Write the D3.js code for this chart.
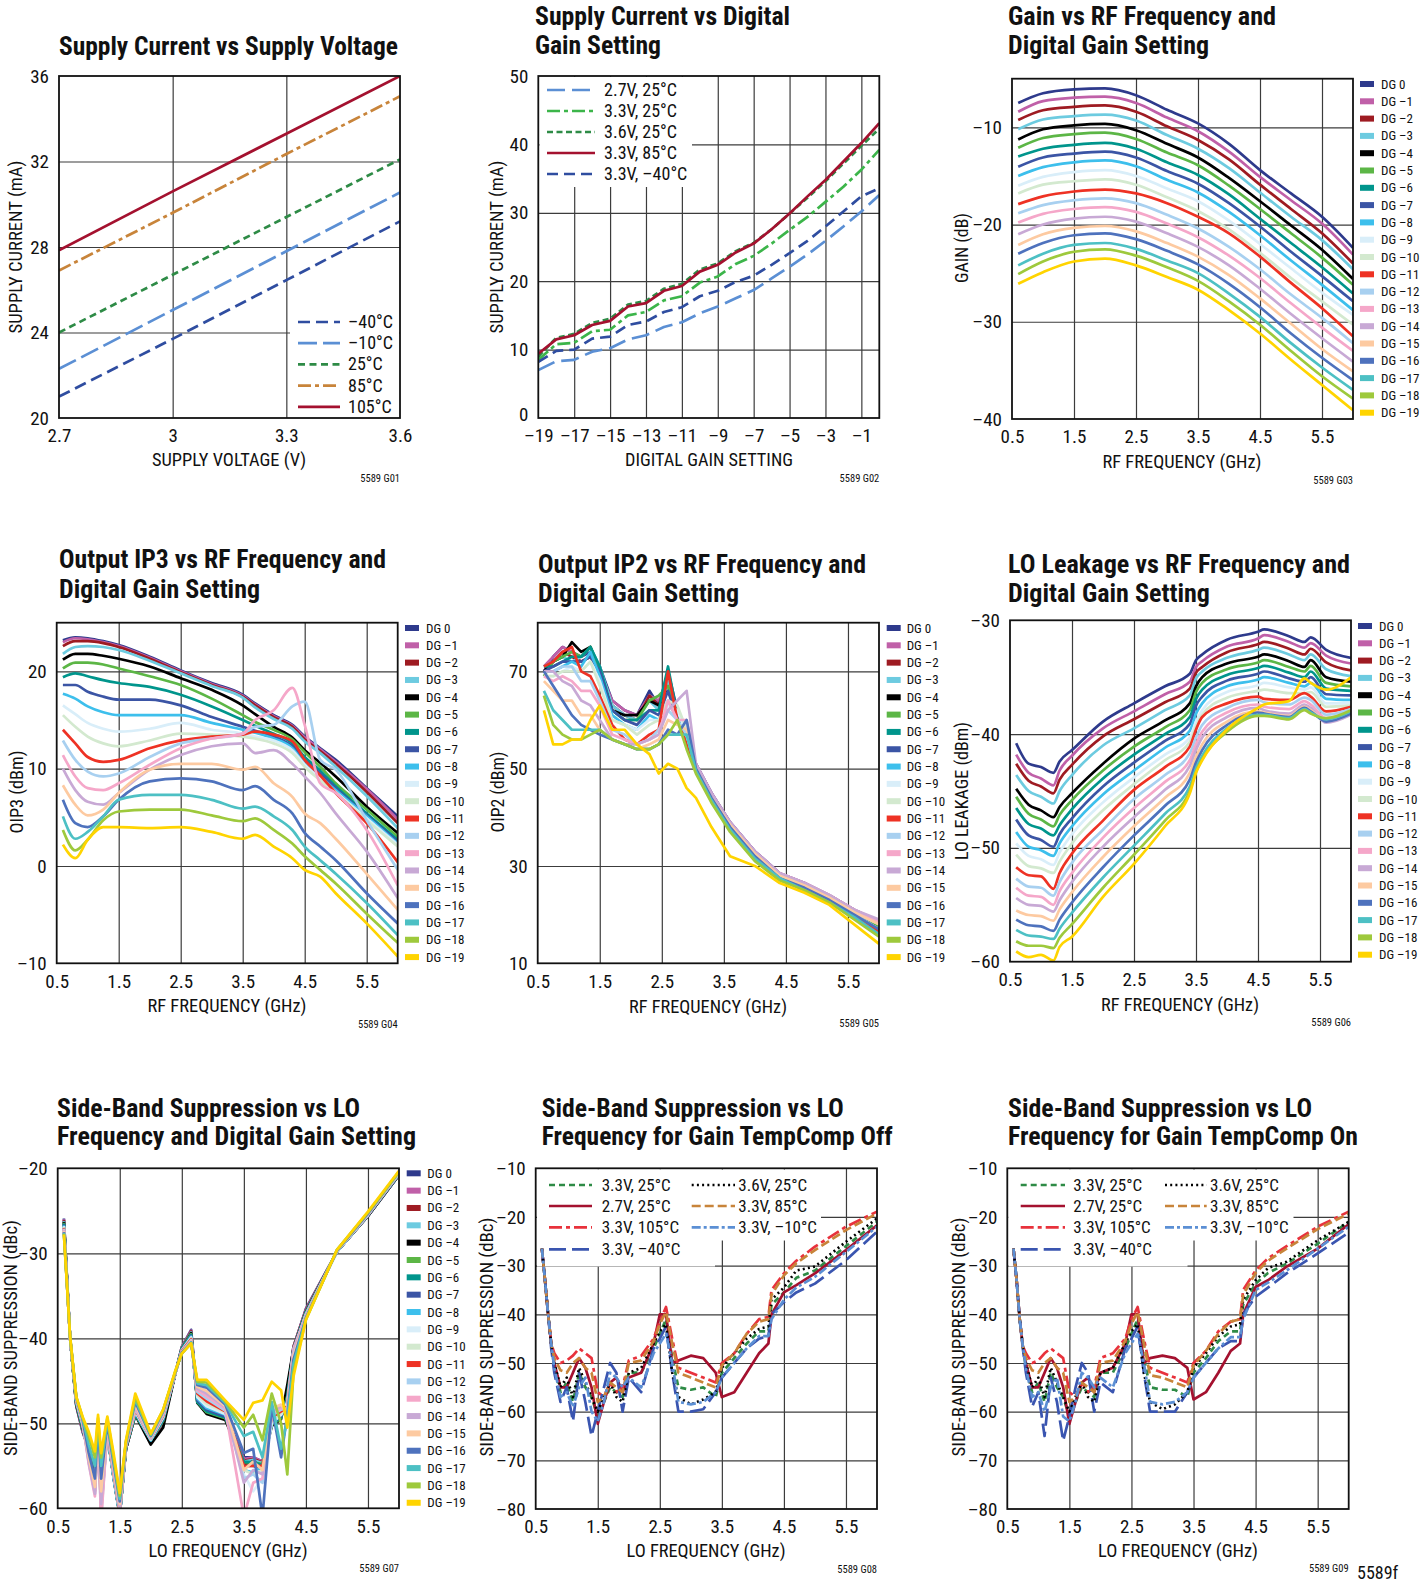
<!DOCTYPE html>
<html>
<head>
<meta charset="utf-8">
<script src="https://cdn.jsdelivr.net/npm/d3@7"></script>
<style>
body { margin: 0; background: #fff; }
svg { display: block; }
</style>
</head>
<body>
<div id="chart"></div>
<script>
// ---------- data ----------

// G01 supply current vs supply voltage
var voltSteps = [2.7, 3.0, 3.3, 3.6];
var curM40 = [21.0, 23.7, 26.45, 29.2];
var curM10 = [22.3, 25.05, 27.8, 30.55];
var cur25 = [24.0, 26.7, 29.4, 32.1];
var cur85 = [26.9, 29.6, 32.35, 35.05];
var cur105 = [27.85, 30.6, 33.3, 36.0];

// G02 supply current vs digital gain setting
var gainSteps = [-19, -18, -17, -16, -15, -14, -13, -12, -11, -10, -9, -8, -7, -6, -5, -4, -3, -2, -1, 0];
var sup27v25 = [7.0, 8.3, 8.5, 9.7, 10.2, 11.5, 12.1, 13.3, 14.0, 15.3, 16.3, 17.5, 18.7, 20.4, 22.1, 23.9, 25.9, 28.0, 30.2, 32.6];
var sup33v25 = [8.5, 10.8, 11.0, 12.7, 12.9, 15.0, 15.5, 17.2, 17.8, 19.8, 20.7, 22.5, 23.7, 25.5, 27.5, 29.4, 31.6, 33.8, 36.3, 39.2];
var sup36v25 = [9.0, 11.7, 12.3, 13.9, 14.5, 16.6, 17.1, 18.9, 19.6, 21.7, 22.6, 24.4, 25.6, 27.6, 29.9, 32.2, 34.6, 37.2, 39.8, 42.3];
var sup33v85 = [9.4, 11.5, 12.1, 13.6, 14.2, 16.3, 16.8, 18.6, 19.3, 21.4, 22.4, 24.2, 25.5, 27.6, 29.9, 32.4, 34.8, 37.5, 40.2, 43.1];
var sup33vM40 = [8.2, 9.8, 10.0, 11.6, 11.9, 13.6, 14.1, 15.5, 16.2, 17.8, 18.6, 19.9, 20.8, 22.4, 24.1, 25.9, 28.0, 30.2, 32.4, 33.6];

// digital gain families
var dgLabels = ["DG 0", "DG \u20131", "DG \u20132", "DG \u20133", "DG \u20134", "DG \u20135", "DG \u20136", "DG \u20137", "DG \u20138", "DG \u20139",
  "DG \u201310", "DG \u201311", "DG \u201312", "DG \u201313", "DG \u201314", "DG \u201315", "DG \u201316", "DG \u201317", "DG \u201318", "DG \u201319"];
var dgColors = ["#2e3a8c", "#c060a8", "#9e1b22", "#6dcbe0", "#000000", "#5cb646", "#00958c", "#3b55a5", "#3dbfec", "#d9eef9",
  "#d3e9cf", "#ee3224", "#a8d0f0", "#f5a7c9", "#c8a9d5", "#fdcaa1", "#4e72bd", "#4dc0c4", "#9ec93c", "#ffd400"];

// G03 gain (dB), one row per DG setting
var gainFreq = [0.6, 1.0, 1.5, 2.0, 2.5, 3.0, 3.5, 4.0, 4.5, 5.0, 5.5, 6.0];
var gainRows = [
  [-7.5, -6.5, -6.1, -6.0, -6.7, -8.2, -9.6, -11.7, -14.4, -16.8, -19.2, -22.4],
  [-8.4, -7.3, -6.95, -6.85, -7.5, -9.0, -10.4, -12.5, -15.1, -17.5, -19.9, -23.1],
  [-9.25, -8.25, -7.9, -7.75, -8.4, -9.9, -11.3, -13.3, -15.9, -18.4, -20.9, -24.0],
  [-10.2, -9.2, -8.85, -8.7, -9.3, -10.8, -12.2, -14.2, -16.7, -19.2, -21.6, -24.6],
  [-11.25, -10.2, -9.8, -9.65, -10.3, -11.7, -13.1, -15.2, -17.6, -20.1, -22.6, -25.6],
  [-12.1, -11.1, -10.7, -10.55, -11.2, -12.6, -13.9, -16.0, -18.4, -20.9, -23.4, -26.2],
  [-13.0, -12.2, -11.8, -11.6, -12.2, -13.6, -14.9, -16.9, -19.4, -21.9, -24.4, -27.1],
  [-14.05, -13.1, -12.7, -12.5, -13.1, -14.5, -15.8, -17.8, -20.2, -22.8, -25.3, -27.9],
  [-15.0, -14.1, -13.6, -13.4, -14.0, -15.4, -16.7, -18.7, -21.1, -23.7, -26.2, -28.8],
  [-16.0, -15.1, -14.6, -14.4, -15.0, -16.3, -17.6, -19.6, -22.0, -24.5, -27.0, -29.3],
  [-16.8, -15.9, -15.55, -15.35, -15.9, -17.2, -18.6, -20.5, -22.9, -25.5, -27.9, -30.3],
  [-17.9, -17.1, -16.6, -16.4, -16.8, -17.8, -19.2, -20.9, -23.3, -26.0, -28.6, -31.5],
  [-18.85, -18.0, -17.5, -17.3, -17.8, -19.0, -20.4, -22.3, -24.6, -27.2, -29.6, -32.2],
  [-19.8, -18.9, -18.4, -18.2, -18.7, -19.9, -21.3, -23.2, -25.5, -28.1, -30.6, -33.0],
  [-21.0, -20.0, -19.4, -19.2, -19.7, -20.9, -22.3, -24.2, -26.6, -29.2, -31.7, -34.1],
  [-22.1, -21.0, -20.35, -20.15, -20.7, -21.9, -23.3, -25.2, -27.6, -30.2, -32.8, -35.1],
  [-23.0, -21.9, -21.1, -20.9, -21.5, -22.7, -24.1, -26.1, -28.5, -31.2, -33.7, -36.0],
  [-24.2, -23.0, -22.1, -21.9, -22.5, -23.7, -25.0, -27.1, -29.5, -32.2, -34.7, -37.0],
  [-25.1, -23.8, -22.8, -22.55, -23.2, -24.4, -25.8, -27.9, -30.3, -33.0, -35.6, -37.9],
  [-26.1, -24.9, -23.8, -23.5, -24.2, -25.4, -26.7, -28.8, -31.2, -33.9, -36.5, -39.1]
];

// G04 OIP3 (dBm)
var oip3Freq = [0.6, 0.8, 1.0, 1.25, 1.5, 2.0, 2.5, 3.0, 3.5, 3.7, 4.0, 4.3, 4.5, 4.75, 5.0, 5.5, 6.0];
var oip3Rows = [
  [23.2, 23.5, 23.4, 23.1, 22.7, 21.5, 20.1, 18.8, 17.6, 16.7, 15.5, 14.5, 13.3, 12.1, 10.9, 8.0, 5.1],
  [23.0, 23.4, 23.3, 23.0, 22.6, 21.4, 20.0, 18.7, 17.5, 16.6, 15.4, 14.4, 13.2, 12.0, 10.7, 7.9, 4.8],
  [22.6, 23.1, 23.1, 22.9, 22.5, 21.3, 19.9, 18.6, 17.4, 16.5, 15.3, 14.3, 13.0, 11.8, 10.5, 7.6, 4.4],
  [21.8, 22.5, 22.6, 22.5, 22.2, 21.1, 19.8, 18.5, 17.3, 16.3, 15.1, 14.1, 12.8, 11.6, 10.2, 7.2, 3.9],
  [21.2, 21.8, 21.8, 21.6, 21.3, 20.5, 19.3, 18.1, 16.5, 15.6, 14.3, 13.2, 11.9, 10.6, 9.2, 6.1, 3.4],
  [20.3, 20.9, 20.9, 20.7, 20.3, 19.5, 18.6, 17.2, 15.5, 14.8, 14.0, 13.0, 11.7, 10.2, 8.5, 5.8, 3.0],
  [19.4, 19.8, 19.5, 19.1, 18.8, 18.4, 17.6, 16.4, 15.0, 14.4, 13.6, 12.6, 11.2, 9.8, 8.2, 5.4, 2.7],
  [18.6, 18.6, 17.9, 17.4, 17.1, 17.1, 16.5, 15.3, 14.3, 13.9, 13.3, 12.3, 10.9, 9.5, 8.0, 5.2, 2.5],
  [17.7, 17.2, 16.4, 15.8, 15.5, 15.5, 15.5, 14.7, 14.0, 13.7, 13.1, 12.1, 10.5, 9.2, 7.8, 5.1, 2.3],
  [16.5, 15.6, 14.7, 14.1, 13.8, 14.1, 14.7, 14.0, 13.6, 13.3, 12.9, 11.9, 10.4, 9.0, 7.6, 4.9, 2.2],
  [15.5, 14.3, 13.3, 12.6, 12.3, 12.9, 13.6, 13.5, 13.3, 13.1, 12.6, 11.6, 10.2, 8.8, 7.5, 4.7, 2.0],
  [14.0, 12.6, 11.2, 10.7, 10.9, 12.1, 12.9, 13.3, 13.5, 13.8, 13.5, 12.8, 10.9, 9.3, 7.5, 4.4, 0.4],
  [12.9, 10.9, 9.7, 9.2, 9.5, 11.2, 12.6, 13.1, 13.6, 14.3, 14.5, 16.4, 16.9, 10.9, 9.9, 4.7, -0.4],
  [11.4, 9.2, 8.0, 7.8, 8.5, 10.4, 12.1, 13.1, 13.6, 15.0, 16.0, 18.3, 14.5, 8.5, 7.5, 3.7, -2.0],
  [10.0, 7.8, 6.6, 6.3, 7.5, 9.9, 11.4, 12.3, 12.6, 11.6, 11.9, 10.5, 9.2, 7.5, 5.4, 1.5, -3.3],
  [8.3, 6.3, 5.2, 5.8, 7.5, 9.9, 10.5, 10.5, 9.9, 10.2, 8.5, 7.1, 5.4, 4.4, 2.8, -0.8, -4.5],
  [6.8, 4.4, 4.0, 5.1, 6.8, 8.7, 9.0, 8.7, 7.8, 8.2, 6.8, 5.4, 3.4, 2.0, 0.6, -2.8, -5.9],
  [5.1, 2.8, 3.5, 5.1, 6.8, 7.3, 7.3, 6.8, 5.9, 6.1, 5.1, 3.7, 2.0, 0.6, -0.8, -3.8, -7.1],
  [3.7, 1.6, 2.7, 4.7, 5.6, 5.8, 5.8, 5.2, 4.6, 4.9, 3.7, 2.3, 1.0, -0.4, -1.8, -4.9, -7.9],
  [2.2, 0.8, 2.7, 4.0, 4.0, 3.9, 4.0, 3.5, 2.8, 3.2, 2.0, 0.8, -0.4, -1.1, -2.8, -5.9, -9.3]
];

// G05 OIP2 (dBm)
var oip2Freq = [0.6, 0.75, 0.9, 1.05, 1.2, 1.35, 1.5, 1.7, 1.9, 2.1, 2.3, 2.45, 2.6, 2.75, 2.9, 3.05, 3.3, 3.6, 4.0, 4.4, 4.8, 5.2, 5.6, 6.0];
var oip2Rows = [
  [70, 73, 75, 74, 73, 74, 71, 64, 62, 61, 66, 63, 70, 62, 57, 51, 45, 39, 33, 28.5, 26.5, 24, 21, 18.5],
  [71, 73, 75, 74, 72, 73, 70, 64, 62, 61, 65, 64, 68, 61, 57, 51, 45, 39, 33, 28.5, 26.5, 24, 21, 18.7],
  [70, 72, 74, 73, 72, 73, 70, 63, 61, 60, 65, 63, 69, 61, 56, 50, 44.5, 38.5, 32.5, 28, 26, 23.5, 20.5, 18],
  [71, 72, 73, 72, 73, 75, 71, 63, 61, 60, 64, 62, 68, 60, 56, 50, 44.5, 38.5, 32.5, 28, 26, 23.5, 20.5, 18],
  [70, 72, 73, 76, 74, 75, 70, 62, 61, 61, 64, 63, 66, 62, 56, 50, 44, 38, 32.5, 28, 26, 23.5, 20.5, 17.5],
  [69, 72, 73, 74, 73, 75, 70, 62, 60, 60, 64, 65, 67, 61, 56, 50, 44, 38, 32.5, 28, 26, 23.5, 20.5, 17.5],
  [71, 71, 72, 73, 73, 75, 71, 62, 60, 60, 62, 62, 71, 61, 56, 50, 44, 38, 32, 28, 25.5, 23, 20, 17],
  [70, 71, 72, 72, 72, 73, 70, 62, 60, 59, 62, 61, 66, 60, 56, 50, 44, 38, 32, 28, 25.5, 23, 20, 17],
  [70, 70, 71, 72, 71, 74, 69, 61, 59, 58, 61, 60, 64, 60, 56, 49.5, 44, 38, 32, 27.5, 25.5, 23, 20, 17],
  [69, 69, 70, 71, 70, 72, 68, 60, 59, 58, 60, 60, 63, 62, 57, 49.5, 43.5, 37.5, 32, 27.5, 25.5, 23, 20, 17],
  [69, 69, 70, 70, 70, 72, 67, 60, 59, 57, 59, 60, 64, 63, 58, 50, 43.5, 37.5, 32, 27.5, 25.5, 23, 20, 17],
  [71, 72, 74, 75, 70, 69, 65, 59, 56, 55, 57, 58, 70, 60, 55, 49.5, 43.5, 37.5, 31.5, 27.5, 25, 22.5, 19.5, 16.5],
  [70, 70, 71, 71, 68, 68, 64, 58, 57, 55, 56, 58, 62, 60, 57, 50, 44, 38, 32, 28, 26, 23.5, 20.5, 18],
  [69, 68, 69, 68, 66, 66, 63, 57, 56, 55, 56, 57, 64, 60, 60, 50.5, 44.5, 38.5, 32.5, 28.5, 26.5, 24, 21, 18.5],
  [70, 70, 68, 67, 64, 63, 60, 56, 55, 55, 56, 57, 62, 64, 66, 51, 45, 39, 33, 28.5, 26.5, 24, 21, 19],
  [68, 66, 64, 64, 61, 61, 58, 56, 55, 54, 55, 56, 60, 59, 58, 50, 44, 38.5, 32.5, 28, 26, 23.5, 20.5, 18],
  [70, 67, 64, 61, 59, 58, 57, 56, 55, 54, 54, 55, 58, 57, 60, 50, 44, 38, 32, 27.5, 25.5, 23, 20, 17],
  [66, 62, 60, 58, 58, 58, 58, 56, 55, 54, 54, 55, 57, 57, 57, 49.5, 43.5, 37.5, 31.5, 27.5, 25, 22.5, 19.5, 16],
  [65, 59, 57, 56, 56, 57, 58, 56, 55, 54, 54, 55, 57, 60, 54, 49, 43, 37, 31, 27, 25, 22.5, 19, 15.5],
  [62, 55, 55, 56, 56, 60, 63, 58, 58, 55, 53, 49, 51, 50, 46, 44, 38, 32, 30, 26.5, 24.5, 22, 18, 14]
];

// G06 LO leakage (dBm)
var leakFreq = [0.6, 0.8, 1.0, 1.2, 1.3, 1.5, 2.0, 2.5, 3.0, 3.4, 3.5, 3.6, 4.0, 4.5, 4.6, 5.0, 5.25, 5.35, 5.6, 6.0];
var leakRows = [
  [-40.8, -42.6, -42.9, -43.4, -42.4, -41.4, -38.9, -37.3, -35.8, -34.7, -33.5, -33.0, -31.7, -31.0, -30.8, -31.4, -31.9, -31.5, -32.6, -33.3],
  [-41.8, -43.4, -43.9, -44.5, -43.2, -41.9, -39.5, -38.0, -36.5, -35.4, -34.1, -33.6, -32.3, -31.6, -31.3, -31.9, -32.4, -32.0, -33.1, -33.8],
  [-42.6, -44.1, -44.6, -45.2, -44.0, -42.7, -40.2, -38.7, -37.2, -36.0, -34.6, -34.1, -32.8, -32.1, -31.9, -32.5, -33.0, -32.5, -33.7, -34.4],
  [-43.6, -45.0, -45.5, -46.1, -45.0, -43.6, -41.0, -39.5, -37.9, -36.6, -35.1, -34.5, -33.3, -32.6, -32.4, -33.0, -33.5, -33.0, -34.3, -34.9],
  [-44.8, -46.2, -46.7, -47.3, -46.4, -45.2, -42.6, -40.4, -38.8, -37.3, -35.8, -35.0, -33.8, -33.2, -33.0, -33.6, -34.1, -33.5, -35.0, -35.4],
  [-45.5, -47.0, -47.5, -48.1, -47.1, -45.8, -43.2, -41.1, -39.4, -37.9, -36.3, -35.5, -34.3, -33.7, -33.5, -34.1, -34.5, -34.0, -35.5, -35.8],
  [-46.5, -47.9, -48.3, -48.9, -48.0, -46.6, -43.9, -41.8, -40.0, -38.5, -36.9, -36.1, -34.8, -34.2, -34.0, -34.6, -35.0, -34.5, -36.0, -36.2],
  [-47.5, -48.9, -49.3, -49.9, -48.8, -47.4, -44.6, -42.5, -40.6, -39.1, -37.5, -36.7, -35.3, -34.7, -34.5, -35.1, -35.4, -35.0, -36.5, -36.6],
  [-48.6, -49.9, -50.2, -50.7, -49.6, -48.1, -45.3, -43.2, -41.2, -39.7, -38.2, -37.3, -35.8, -35.2, -35.0, -35.5, -35.8, -35.5, -36.9, -37.0],
  [-49.6, -50.7, -51.0, -51.5, -50.4, -48.8, -46.0, -43.8, -41.8, -40.3, -38.9, -37.9, -36.3, -35.7, -35.5, -35.9, -36.1, -35.9, -37.3, -37.3],
  [-50.6, -51.6, -51.8, -52.2, -51.2, -49.6, -46.7, -44.4, -42.3, -40.7, -39.3, -38.3, -36.8, -36.2, -36.1, -36.4, -36.4, -36.3, -37.6, -37.5],
  [-51.7, -52.4, -52.5, -53.6, -52.2, -50.5, -47.6, -44.9, -42.9, -41.1, -39.6, -38.5, -37.3, -36.7, -36.9, -37.0, -36.4, -36.7, -38.0, -37.6],
  [-52.7, -53.4, -53.5, -54.2, -53.0, -51.3, -48.4, -45.7, -43.6, -41.7, -40.3, -39.2, -37.7, -37.0, -37.2, -37.4, -36.8, -37.0, -38.3, -37.8],
  [-53.5, -54.2, -54.3, -55.0, -53.8, -52.2, -49.1, -46.5, -44.2, -42.3, -40.9, -39.8, -38.1, -37.4, -37.6, -37.8, -37.1, -37.4, -38.6, -38.0],
  [-54.4, -55.0, -55.1, -55.6, -54.6, -53.0, -49.9, -47.3, -44.9, -42.8, -41.4, -40.3, -38.5, -37.7, -37.9, -38.2, -37.4, -37.7, -39.0, -38.3],
  [-55.5, -55.9, -56.0, -56.4, -55.4, -53.9, -50.8, -48.1, -45.6, -43.4, -42.0, -40.9, -38.9, -38.0, -38.1, -38.4, -37.6, -37.9, -38.8, -38.1],
  [-56.3, -56.8, -56.9, -57.3, -56.3, -54.8, -51.7, -48.9, -46.3, -44.0, -42.5, -41.4, -39.2, -38.1, -38.2, -38.5, -37.7, -38.0, -38.9, -38.2],
  [-57.2, -57.7, -57.8, -58.0, -57.1, -55.7, -52.6, -49.8, -47.0, -44.6, -43.0, -41.9, -39.5, -38.3, -38.3, -38.6, -37.8, -38.1, -38.7, -38.0],
  [-58.2, -58.6, -58.6, -58.8, -57.9, -56.7, -53.5, -50.6, -47.6, -45.0, -43.3, -42.2, -39.8, -38.4, -38.4, -38.7, -37.9, -38.2, -38.6, -37.9],
  [-59.1, -59.6, -59.4, -59.9, -58.7, -57.8, -54.3, -51.4, -48.1, -45.2, -43.4, -42.3, -39.6, -37.7, -37.4, -37.1, -35.1, -35.5, -36.1, -35.0]
];

// G07 side-band suppression (dBc) per DG setting
var sbsFreq = [0.6, 0.7, 0.8, 0.9, 1.0, 1.1, 1.15, 1.2, 1.3, 1.4, 1.5, 1.6, 1.75, 2.0, 2.2, 2.4, 2.5, 2.65, 2.75, 2.9, 3.2, 3.5, 3.65, 3.8, 3.95, 4.1, 4.2, 4.3, 4.5, 5.0, 5.5, 6.0];
var sbsRows = [
  [-25.9, -40.0, -48.0, -51.0, -53.0, -56.0, -51.0, -57.0, -51.0, -56.0, -60.5, -53.0, -49.0, -52.0, -50.0, -44.0, -41.0, -39.0, -47.0, -48.5, -49.0, -54.0, -54.0, -54.5, -50.0, -49.0, -46.5, -41.0, -36.5, -29.8, -25.6, -20.8],
  [-26.0, -40.0, -47.9, -50.9, -53.0, -56.0, -51.0, -57.2, -51.0, -56.0, -60.5, -53.0, -49.0, -52.0, -50.0, -44.0, -41.0, -39.1, -47.2, -48.7, -49.1, -54.2, -54.0, -54.5, -50.0, -49.0, -46.5, -41.0, -36.6, -29.8, -25.6, -20.8],
  [-26.1, -40.0, -47.9, -50.8, -53.1, -56.2, -51.1, -57.5, -51.0, -56.1, -60.6, -53.0, -49.0, -52.0, -49.9, -44.0, -41.1, -39.2, -47.4, -48.8, -49.2, -54.4, -54.2, -54.6, -50.1, -49.1, -46.6, -41.0, -36.7, -29.8, -25.6, -20.8],
  [-26.2, -40.0, -47.8, -50.7, -53.2, -56.4, -51.2, -57.8, -51.1, -56.2, -60.6, -53.0, -49.0, -52.0, -49.8, -44.0, -41.1, -39.3, -47.5, -48.8, -49.3, -54.5, -54.3, -54.7, -50.2, -49.2, -46.4, -41.1, -36.8, -29.8, -25.6, -20.8],
  [-26.3, -40.0, -47.8, -50.6, -53.3, -56.6, -51.3, -58.0, -51.2, -56.3, -60.8, -53.0, -49.0, -52.5, -50.5, -44.0, -41.2, -39.4, -47.6, -48.9, -49.6, -54.8, -54.5, -55.0, -50.3, -49.5, -45.5, -41.2, -36.9, -29.8, -25.6, -20.8],
  [-26.4, -40.0, -47.7, -50.5, -53.4, -56.8, -51.4, -58.3, -51.3, -56.3, -60.8, -52.9, -49.0, -52.0, -49.7, -44.0, -41.2, -39.5, -47.5, -48.7, -49.4, -54.6, -54.6, -54.8, -50.2, -49.4, -46.8, -41.3, -37.0, -29.8, -25.5, -20.7],
  [-26.5, -40.0, -47.6, -50.4, -53.5, -57.0, -51.4, -58.6, -51.3, -56.4, -60.9, -52.8, -48.9, -52.0, -49.6, -44.0, -41.3, -39.6, -47.5, -48.6, -49.3, -54.5, -54.6, -54.9, -50.1, -49.3, -47.0, -41.3, -37.0, -29.8, -25.5, -20.7],
  [-26.6, -40.0, -47.5, -50.3, -53.6, -57.2, -51.5, -58.9, -51.2, -56.4, -60.9, -52.8, -48.8, -52.0, -49.5, -44.0, -41.3, -39.7, -47.3, -48.4, -49.2, -55.0, -55.0, -55.5, -50.0, -49.2, -47.2, -41.4, -37.1, -29.8, -25.5, -20.7],
  [-26.7, -40.0, -47.5, -50.2, -53.7, -57.4, -51.4, -59.2, -51.2, -56.3, -60.8, -52.7, -48.7, -52.0, -49.4, -44.0, -41.4, -39.8, -47.1, -48.2, -49.0, -55.5, -55.8, -55.0, -50.0, -49.0, -47.4, -41.4, -37.1, -29.8, -25.5, -20.7],
  [-26.8, -40.0, -47.4, -50.1, -53.8, -57.6, -51.3, -59.6, -51.1, -56.2, -60.7, -52.7, -48.6, -51.9, -49.3, -44.0, -41.4, -39.9, -46.9, -48.0, -48.9, -56.0, -58.0, -56.5, -50.0, -49.0, -47.6, -41.5, -37.2, -29.8, -25.5, -20.6],
  [-26.9, -40.0, -47.3, -50.0, -54.0, -57.8, -51.2, -60.0, -51.0, -56.0, -60.6, -52.6, -48.5, -51.9, -49.2, -44.0, -41.5, -40.0, -46.7, -47.7, -48.7, -55.5, -56.0, -55.5, -49.5, -48.8, -47.8, -41.5, -37.2, -29.7, -25.4, -20.6],
  [-27.0, -40.0, -47.3, -49.9, -54.2, -58.0, -51.1, -60.3, -50.9, -55.8, -60.5, -52.6, -48.4, -51.8, -49.1, -44.0, -41.5, -40.1, -46.5, -47.4, -48.6, -55.0, -55.0, -55.0, -49.3, -48.6, -48.0, -41.6, -37.3, -29.7, -25.4, -20.6],
  [-27.1, -40.0, -47.2, -49.9, -54.5, -58.3, -51.0, -61.0, -50.8, -55.6, -60.3, -52.5, -48.3, -51.8, -49.0, -44.0, -41.6, -40.2, -46.3, -47.1, -48.5, -56.5, -56.0, -57.0, -49.1, -48.4, -48.2, -41.6, -37.3, -29.7, -25.4, -20.6],
  [-27.2, -40.0, -47.2, -49.8, -54.8, -58.6, -50.8, -61.5, -50.6, -55.4, -60.0, -52.5, -48.2, -51.7, -48.9, -44.0, -41.6, -40.3, -46.1, -46.8, -48.3, -61.0, -57.0, -56.5, -48.9, -48.2, -48.4, -41.2, -37.4, -29.7, -25.4, -20.5],
  [-27.3, -40.0, -47.1, -49.7, -54.6, -58.3, -50.6, -59.5, -50.4, -55.2, -59.8, -52.4, -48.0, -51.7, -48.8, -43.9, -41.7, -40.4, -45.9, -46.5, -48.1, -57.0, -55.5, -56.0, -48.6, -48.0, -48.6, -41.5, -37.4, -29.7, -25.3, -20.5],
  [-27.4, -40.0, -47.1, -49.6, -54.0, -57.5, -50.4, -58.0, -50.2, -55.0, -59.5, -52.4, -47.8, -51.6, -48.7, -43.9, -41.7, -40.4, -45.7, -46.2, -48.0, -55.5, -54.5, -55.5, -48.3, -47.8, -48.8, -42.0, -37.5, -29.7, -25.3, -20.5],
  [-27.5, -39.9, -47.0, -49.5, -53.5, -56.5, -50.1, -56.5, -50.0, -54.7, -59.2, -52.3, -47.5, -51.5, -48.6, -43.9, -41.7, -40.5, -45.5, -45.8, -47.8, -53.5, -53.0, -61.0, -48.0, -54.0, -49.0, -42.5, -37.6, -29.7, -25.3, -20.4],
  [-27.6, -39.9, -47.0, -49.4, -52.5, -55.0, -49.8, -55.0, -49.7, -54.3, -58.9, -52.2, -47.2, -51.4, -48.5, -43.8, -41.8, -40.5, -45.3, -45.5, -47.6, -51.5, -51.0, -54.0, -47.5, -53.0, -49.5, -43.0, -37.7, -29.6, -25.2, -20.4],
  [-27.7, -39.8, -46.9, -49.3, -51.5, -54.0, -49.4, -54.0, -49.4, -53.9, -58.5, -52.1, -46.9, -51.3, -48.4, -43.8, -41.8, -40.6, -45.1, -45.2, -47.4, -50.5, -49.0, -52.0, -46.5, -50.0, -56.0, -44.0, -37.8, -29.6, -25.2, -20.4],
  [-27.8, -39.8, -46.9, -49.2, -51.0, -53.3, -49.0, -53.5, -49.2, -53.5, -58.2, -52.0, -46.5, -51.2, -48.4, -43.7, -41.8, -40.6, -44.9, -44.9, -47.3, -49.6, -47.6, -47.3, -45.1, -46.1, -50.5, -44.5, -37.8, -29.6, -25.1, -20.3]
];

// G08 / G09 side-band suppression vs supply and temperature
var condFreq = [0.6, 0.65, 0.7, 0.75, 0.8, 0.9, 1.0, 1.1, 1.2, 1.3, 1.4, 1.5, 1.6, 1.7, 1.8, 1.9, 2.0, 2.2, 2.4, 2.5, 2.6, 2.7, 2.8, 3.0, 3.2, 3.4, 3.5, 3.7, 3.9, 4.1, 4.25, 4.3, 4.5, 4.7, 5.0, 5.5, 6.0];
var condLabels = ["3.3V, 25\u00b0C", "2.7V, 25\u00b0C", "3.3V, 105\u00b0C", "3.3V, \u201340\u00b0C", "3.6V, 25\u00b0C", "3.3V, 85\u00b0C", "3.3V, \u201310\u00b0C"];
var off33v25 = [-26.5, -33, -40, -46, -51, -56, -54, -58, -52, -55, -57, -61, -58, -55, -56, -57, -52, -52, -47, -44, -41, -49, -55, -55.5, -55, -57, -52, -49, -46, -43.5, -43.5, -38, -35.5, -32.5, -31, -26, -21];
var off27v25 = [-26.5, -33, -40, -46, -50, -55, -55, -52, -49, -51, -55, -62.5, -58, -54, -53, -56, -53, -52, -46, -40, -40, -50, -49.5, -48.5, -49, -52, -57, -56, -52, -48, -46, -40, -35.5, -34, -31.6, -26.8, -21.7];
var off33v105 = [-26.5, -33, -40, -46, -48, -50, -49.5, -48.5, -47, -48, -49, -56, -57, -54, -56, -55, -49.5, -48.5, -45, -41.5, -38.5, -45, -51, -52, -53, -54, -50, -48, -44, -41, -40.5, -35, -31.6, -29, -26.1, -22, -18.9];
var off33vM40 = [-26.5, -33, -40, -47, -52, -58, -55, -62, -52, -58, -65, -60, -55, -50, -52, -60, -53, -56, -47, -45, -42.5, -52, -60, -60, -59.5, -56, -53, -50, -47, -45, -44.5, -40, -37.5, -35.5, -33.7, -28.9, -23];
var off36v25 = [-26.5, -33, -40, -46, -50, -55, -53, -57, -51, -54, -57, -60, -57, -54, -57, -58, -52, -51, -46, -43.5, -42, -52, -57, -58.5, -57.5, -56, -51, -48, -45, -43, -42.5, -37, -34.5, -31, -30.2, -25.1, -20.3];
var off33v85 = [-26.5, -33, -40, -46, -49, -51.5, -52, -50, -49, -51, -52, -58, -57, -54, -55, -56, -50, -49.5, -45.5, -42, -39.5, -46, -52, -53, -54, -55, -50.5, -48, -44, -41.5, -41, -36, -32, -29.5, -26.8, -22.7, -19.3];
var off33vM10 = [-26.5, -33, -40, -46, -51, -57, -56, -59, -55, -53, -60, -62, -58, -52, -53, -55, -53, -55, -48, -46, -44, -50, -58, -58.5, -58, -56, -53, -50, -47, -44.5, -44.5, -41, -37, -34.5, -32.3, -27.2, -22];
var on33v25 = [-26.5, -33, -41, -46.5, -51, -56, -54, -58, -52, -55, -57, -61, -58, -55, -56, -57, -52, -52, -47, -44, -41, -49, -55, -55.5, -55.5, -57, -52, -49, -45.5, -43.5, -43.5, -38, -33.7, -31.5, -29.6, -25.5, -21];
var on27v25 = [-26.5, -33, -41, -46.5, -50, -55, -55, -52, -49, -51, -55, -62.5, -58, -54, -53, -56, -52, -51, -46, -40, -40, -50, -49, -48.5, -49, -51, -57.5, -56, -52, -47.5, -46, -40, -34.4, -33, -30.2, -26.5, -21.5];
var on33v105 = [-26.5, -33, -41, -46.5, -48, -50, -49.5, -48, -47, -48, -49, -56, -57, -54, -56, -55, -49, -48, -45, -41, -38.5, -45, -51, -52, -53, -54, -50, -47.5, -43.5, -41.5, -41, -35, -31, -28.5, -26, -22, -18.9];
var on33vM40 = [-26.5, -33, -41, -47, -52, -59, -56, -65, -53, -58, -66, -61, -55, -50, -52, -60, -54, -56, -47, -45, -42.5, -52, -60, -60, -60, -56, -53, -50, -47, -45.5, -45.5, -40, -36.4, -34.5, -31.6, -27.5, -23.2];
var on36v25 = [-26.5, -33, -41, -46.5, -50, -55, -53, -57, -51, -54, -57, -60, -57, -54, -57, -58, -52, -51, -46, -43.5, -42, -52, -58, -59.5, -58.5, -56, -51, -48, -44.5, -42.5, -42, -37, -33, -30.5, -29.2, -24.8, -21];
var on33v85 = [-26.5, -33, -41, -46.5, -49, -51.5, -52, -50, -49, -51, -52, -58, -57, -54, -55, -56, -50, -49.5, -45.5, -42, -39.5, -46, -52.5, -53, -54, -55, -50.5, -47.5, -44, -41.5, -41, -36, -31.5, -29, -26.5, -22.5, -19.3];
var on33vM10 = [-26.5, -33, -41, -46.5, -51, -57, -56, -60, -55, -53, -61, -62, -58, -52, -53, -55, -53, -55, -48, -46, -44, -50, -58, -58.5, -58, -56, -53, -50, -47, -44.7, -44.7, -41, -35, -33.5, -31, -26.5, -22];

var freqTicks = [0.5, 1.5, 2.5, 3.5, 4.5, 5.5];
var freqGrid = [1.5, 2.5, 3.5, 4.5, 5.5];

// ---------- drawing ----------
var W = 1427, H = 1585;
var FONT = "'Liberation Sans Narrow', 'Arial Narrow', 'Roboto Condensed', 'DejaVu Sans Condensed', sans-serif";

var svg = d3.select("#chart").append("svg")
  .attr("width", W)
  .attr("height", H)
  .style("font-family", FONT);

svg.append("rect").attr("width", W).attr("height", H).attr("fill", "#fff");

function fmt(d) {
  return (d < 0 ? "\u2013" : "") + Math.abs(d);
}

var GREEN_D = "#2e8b46", GREEN_L = "#3cb54a", BLUE_D = "#2f4da0", BLUE_L = "#5b8fd4",
  RED_D = "#a4112f", RED = "#e8323c", ORANGE = "#c8843a";

function dgSeries(xs, rows) {
  return rows.map(function (r, i) {
    return { xs: xs, ys: r, color: dgColors[i], width: 2.7 };
  });
}

function drawPanel(p) {
  var x = d3.scaleLinear().domain(p.xDomain).range([p.left, p.right]);
  var y = d3.scaleLinear().domain(p.yDomain).range([p.bottom, p.top]);
  var w = p.right - p.left, h = p.bottom - p.top;
  var g = svg.append("g");

  // grid
  var gx = g.append("g").attr("transform", "translate(0," + p.bottom + ")")
    .call(d3.axisBottom(x).tickValues(p.xGrid).tickSize(-h).tickFormat(""));
  var gy = g.append("g").attr("transform", "translate(" + p.left + ",0)")
    .call(d3.axisLeft(y).tickValues(p.yGrid).tickSize(-w).tickFormat(""));
  [gx, gy].forEach(function (a) {
    a.select(".domain").remove();
    a.selectAll("line").attr("stroke", "#3c3c3c").attr("stroke-width", 1.2);
  });

  // white areas behind the legends
  (p.boxes || []).forEach(function (b) {
    g.append("rect").attr("x", b[0]).attr("y", b[1]).attr("width", b[2]).attr("height", b[3]).attr("fill", "#fff");
  });

  // curves
  var clipId = "clip" + p.id;
  g.append("clipPath").attr("id", clipId).append("rect")
    .attr("x", p.left).attr("y", p.top).attr("width", w).attr("height", h);

  var line = d3.line()
    .x(function (d) { return x(d[0]); })
    .y(function (d) { return y(d[1]); })
    .curve(p.curve || d3.curveLinear);

  g.append("g").attr("clip-path", "url(#" + clipId + ")")
    .selectAll("path").data(p.series).enter().append("path")
    .attr("d", function (s) {
      return line(s.xs.map(function (v, i) { return [v, s.ys[i]]; }));
    })
    .attr("fill", "none")
    .attr("stroke", function (s) { return s.color; })
    .attr("stroke-width", function (s) { return s.width; })
    .attr("stroke-dasharray", function (s) { return s.dash || null; })
    .attr("stroke-linejoin", "round");

  // frame
  g.append("rect").attr("x", p.left).attr("y", p.top).attr("width", w).attr("height", h)
    .attr("fill", "none").attr("stroke", "#111").attr("stroke-width", 1.8);

  // tick labels
  var ax = g.append("g").attr("transform", "translate(0," + p.bottom + ")")
    .call(d3.axisBottom(x).tickValues(p.xTicks).tickSize(0).tickPadding(11).tickFormat(fmt));
  var ay = g.append("g").attr("transform", "translate(" + p.left + ",0)")
    .call(d3.axisLeft(y).tickValues(p.yTicks).tickSize(0).tickPadding(10).tickFormat(fmt));
  [ax, ay].forEach(function (a) {
    a.attr("font-family", null).attr("font-size", null);
    a.select(".domain").remove();
    a.selectAll("text").attr("fill", "#111").style("font-size", "19px");
  });
  // lift the bottom y label a little where it sits right above the first x label
  if (p.liftBottomY) {
    ay.selectAll("text").filter(function (d) { return d === p.yDomain[0]; })
      .attr("dy", "0.12em");
  }

  // title
  p.titles.forEach(function (t) {
    g.append("text").attr("x", p.titleX).attr("y", t[1])
      .attr("textLength", t[2]).attr("lengthAdjust", "spacingAndGlyphs")
      .style("font-size", "26px").style("font-weight", "bold").attr("fill", "#111")
      .text(t[0]);
  });

  // axis titles
  g.append("text").attr("x", p.xLabel[1]).attr("y", p.xLabel[2])
    .attr("text-anchor", "middle").attr("textLength", p.xLabel[3]).attr("lengthAdjust", "spacingAndGlyphs")
    .style("font-size", "18px").attr("fill", "#111").text(p.xLabel[0]);
  g.append("text")
    .attr("transform", "translate(" + p.yLabel[1] + "," + p.yLabel[2] + ") rotate(-90)")
    .attr("text-anchor", "middle").attr("textLength", p.yLabel[3]).attr("lengthAdjust", "spacingAndGlyphs")
    .style("font-size", "18px").attr("fill", "#111").text(p.yLabel[0]);

  // figure code
  g.append("text").attr("x", p.right).attr("y", p.code[1]).attr("text-anchor", "end")
    .style("font-size", "10.5px").attr("fill", "#111").text(p.code[0]);

  // DG colour legend
  if (p.dg) {
    var lg = g.append("g");
    dgLabels.forEach(function (lab, i) {
      var cy = p.dg.y0 + i * p.dg.step;
      lg.append("rect").attr("x", p.dg.x).attr("y", cy - 3).attr("width", 14).attr("height", 6)
        .attr("fill", dgColors[i]);
      lg.append("text").attr("x", p.dg.tx).attr("y", cy + 4.5)
        .style("font-size", "13px").attr("fill", "#111").text(lab);
    });
  }

  // line-style legend
  if (p.items) {
    p.items.forEach(function (it) {
      var s = p.series[it.s];
      g.append("line").attr("x1", it.x1).attr("x2", it.x2).attr("y1", it.y).attr("y2", it.y)
        .attr("stroke", s.color).attr("stroke-width", s.width)
        .attr("stroke-dasharray", s.dash || null);
      g.append("text").attr("x", it.tx).attr("y", it.y + 6)
        .style("font-size", p.itemFont + "px").attr("fill", "#111").text(it.label);
    });
  }
}

// G01
var p1Temps = ["\u201340\u00b0C", "\u201310\u00b0C", "25\u00b0C", "85\u00b0C", "105\u00b0C"];
drawPanel({
  id: 1, left: 59, right: 400, top: 76, bottom: 418,
  xDomain: [2.7, 3.6], yDomain: [20, 36],
  xTicks: voltSteps, yTicks: [20, 24, 28, 32, 36], xGrid: [3.0, 3.3], yGrid: [24, 28, 32],
  titleX: 59, titles: [["Supply Current vs Supply Voltage", 54.5, 339]],
  xLabel: ["SUPPLY VOLTAGE (V)", 229, 466, 154],
  yLabel: ["SUPPLY CURRENT (mA)", 22, 247, 173],
  code: ["5589 G01", 481.7],
  boxes: [[290, 307, 109, 110]],
  series: [
    { xs: voltSteps, ys: curM40, color: BLUE_D, width: 2.7, dash: "12,6" },
    { xs: voltSteps, ys: curM10, color: BLUE_L, width: 2.7, dash: "19,6" },
    { xs: voltSteps, ys: cur25, color: GREEN_D, width: 2.7, dash: "7,4.5" },
    { xs: voltSteps, ys: cur85, color: ORANGE, width: 2.7, dash: "13,4,4,4" },
    { xs: voltSteps, ys: cur105, color: RED_D, width: 2.7 }
  ],
  itemFont: 18,
  items: [0, 1, 2, 3, 4].map(function (i) {
    return { s: i, x1: 298, x2: 340, tx: 348, y: 322 + i * 21.2, label: p1Temps[i] };
  })
});

// G02
var p2Labels = ["2.7V, 25\u00b0C", "3.3V, 25\u00b0C", "3.6V, 25\u00b0C", "3.3V, 85\u00b0C", "3.3V, \u201340\u00b0C"];
var p2Series = [
  { xs: gainSteps, ys: sup27v25, color: BLUE_L, width: 2.7, dash: "18,7" },
  { xs: gainSteps, ys: sup33v25, color: GREEN_L, width: 2.7, dash: "13,4,4,4" },
  { xs: gainSteps, ys: sup36v25, color: GREEN_D, width: 2.7, dash: "6,3.5" },
  { xs: gainSteps, ys: sup33v85, color: RED_D, width: 2.7 },
  { xs: gainSteps, ys: sup33vM40, color: BLUE_D, width: 2.7, dash: "11,6" }
];
drawPanel({
  id: 2, left: 538.3, right: 879.3, top: 76, bottom: 418,
  xDomain: [-19, 0], yDomain: [0, 50], liftBottomY: true,
  xTicks: [-19, -17, -15, -13, -11, -9, -7, -5, -3, -1], yTicks: [0, 10, 20, 30, 40, 50],
  xGrid: [-17, -15, -13, -11, -9, -7, -5, -3, -1], yGrid: [10, 20, 30, 40],
  titleX: 535, titles: [["Supply Current vs Digital", 25, 255], ["Gain Setting", 54.3, 126]],
  xLabel: ["DIGITAL GAIN SETTING", 709, 466, 168],
  yLabel: ["SUPPLY CURRENT (mA)", 503, 247, 173],
  code: ["5589 G02", 481.7],
  boxes: [[539.5, 77, 152.5, 110]],
  series: [p2Series[0], p2Series[1], p2Series[4], p2Series[2], p2Series[3]],
  itemFont: 18,
  items: [
    { s: 0, x1: 547, x2: 595, tx: 604, y: 90, label: p2Labels[0] },
    { s: 1, x1: 547, x2: 595, tx: 604, y: 111, label: p2Labels[1] },
    { s: 3, x1: 547, x2: 595, tx: 604, y: 132, label: p2Labels[2] },
    { s: 4, x1: 547, x2: 595, tx: 604, y: 153, label: p2Labels[3] },
    { s: 2, x1: 547, x2: 595, tx: 604, y: 174, label: p2Labels[4] }
  ]
});

// G03
drawPanel({
  id: 3, left: 1012, right: 1353, top: 78.7, bottom: 419,
  xDomain: [0.5, 6.0], yDomain: [-40, -5],
  xTicks: freqTicks, yTicks: [-40, -30, -20, -10], xGrid: freqGrid, yGrid: [-30, -20, -10],
  titleX: 1008, titles: [["Gain vs RF Frequency and", 25, 268], ["Digital Gain Setting", 54.3, 201]],
  xLabel: ["RF FREQUENCY (GHz)", 1182, 468, 159],
  yLabel: ["GAIN (dB)", 968, 248, 70],
  code: ["5589 G03", 484],
  curve: d3.curveMonotoneX,
  series: dgSeries(gainFreq, gainRows),
  dg: { x: 1360, tx: 1381, y0: 84, step: 17.3 }
});

// G04
drawPanel({
  id: 4, left: 56.7, right: 397.7, top: 622.7, bottom: 963.3,
  xDomain: [0.5, 6.0], yDomain: [-10, 25],
  xTicks: freqTicks, yTicks: [-10, 0, 10, 20], xGrid: freqGrid, yGrid: [0, 10, 20],
  titleX: 59, titles: [["Output IP3 vs RF Frequency and", 568.3, 327], ["Digital Gain Setting", 598, 201]],
  xLabel: ["RF FREQUENCY (GHz)", 227, 1011.7, 159],
  yLabel: ["OIP3 (dBm)", 23, 792, 83],
  code: ["5589 G04", 1028],
  curve: d3.curveMonotoneX,
  series: dgSeries(oip3Freq, oip3Rows),
  dg: { x: 405, tx: 426, y0: 628, step: 17.32 }
});

// G05
drawPanel({
  id: 5, left: 537.7, right: 879, top: 622.7, bottom: 963.3,
  xDomain: [0.5, 6.0], yDomain: [10, 80],
  xTicks: freqTicks, yTicks: [10, 30, 50, 70], xGrid: freqGrid, yGrid: [30, 50, 70],
  titleX: 538, titles: [["Output IP2 vs RF Frequency and", 572.7, 328], ["Digital Gain Setting", 601.7, 201]],
  xLabel: ["RF FREQUENCY (GHz)", 708, 1012.7, 158],
  yLabel: ["OIP2 (dBm)", 504, 792, 81],
  code: ["5589 G05", 1027],
  series: dgSeries(oip2Freq, oip2Rows),
  dg: { x: 886.7, tx: 906.7, y0: 628, step: 17.32 }
});

// G06
drawPanel({
  id: 6, left: 1010, right: 1351, top: 620.3, bottom: 961.7,
  xDomain: [0.5, 6.0], yDomain: [-60, -30],
  xTicks: freqTicks, yTicks: [-60, -50, -40, -30], xGrid: freqGrid, yGrid: [-50, -40],
  titleX: 1008, titles: [["LO Leakage vs RF Frequency and", 572.7, 342], ["Digital Gain Setting", 601.7, 202]],
  xLabel: ["RF FREQUENCY (GHz)", 1180, 1011, 158],
  yLabel: ["LO LEAKAGE (dBm)", 968, 791, 138],
  code: ["5589 G06", 1025.7],
  curve: d3.curveMonotoneX,
  series: dgSeries(leakFreq, leakRows),
  dg: { x: 1358, tx: 1379, y0: 626, step: 17.3 }
});

// G07
drawPanel({
  id: 7, left: 57.7, right: 399, top: 1168.3, bottom: 1508.3,
  xDomain: [0.5, 6.0], yDomain: [-60, -20],
  xTicks: freqTicks, yTicks: [-60, -50, -40, -30, -20], xGrid: freqGrid, yGrid: [-50, -40, -30],
  titleX: 57, titles: [["Side-Band Suppression vs LO", 1116.7, 303], ["Frequency and Digital Gain Setting", 1145, 359]],
  xLabel: ["LO FREQUENCY (GHz)", 228, 1557, 159],
  yLabel: ["SIDE-BAND SUPPRESSION (dBc)", 17, 1338, 236],
  code: ["5589 G07", 1572],
  series: dgSeries(sbsFreq, sbsRows),
  dg: { x: 406.7, tx: 427.3, y0: 1173.3, step: 17.34 }
});

// G08 / G09
function condSeries(rows) {
  return [
    { xs: condFreq, ys: rows[0], color: GREEN_D, width: 2.7, dash: "6,4" },
    { xs: condFreq, ys: rows[1], color: RED_D, width: 2.7 },
    { xs: condFreq, ys: rows[2], color: RED, width: 2.7, dash: "13,4,4,4" },
    { xs: condFreq, ys: rows[3], color: "#3a55b0", width: 2.7, dash: "17,6" },
    { xs: condFreq, ys: rows[4], color: "#000", width: 2.6, dash: "2,3.2" },
    { xs: condFreq, ys: rows[5], color: ORANGE, width: 2.7, dash: "9,4" },
    { xs: condFreq, ys: rows[6], color: BLUE_L, width: 2.7, dash: "9,3,3,3" }
  ];
}
function condItems(lx1, lx2, ltx, rx1, rx2, rtx) {
  var ys = [1185, 1206, 1227.3, 1249.3];
  var out = [];
  for (var i = 0; i < 4; i++) out.push({ s: i, x1: lx1, x2: lx2, tx: ltx, y: ys[i], label: condLabels[i] });
  for (var j = 0; j < 3; j++) out.push({ s: 4 + j, x1: rx1, x2: rx2, tx: rtx, y: ys[j], label: condLabels[4 + j] });
  return out;
}

drawPanel({
  id: 8, left: 535.7, right: 877, top: 1168.3, bottom: 1509,
  xDomain: [0.5, 6.0], yDomain: [-80, -10],
  xTicks: freqTicks, yTicks: [-80, -70, -60, -50, -40, -30, -20, -10], xGrid: freqGrid, yGrid: [-70, -60, -50, -40, -30, -20],
  titleX: 541.7, titles: [["Side-Band Suppression vs LO", 1116.7, 302], ["Frequency for Gain TempComp Off", 1145, 351]],
  xLabel: ["LO FREQUENCY (GHz)", 706, 1557, 159],
  yLabel: ["SIDE-BAND SUPPRESSION (dBc)", 493, 1337, 239],
  code: ["5589 G08", 1573],
  boxes: [[537, 1169.5, 284, 71], [537, 1169.5, 178, 97]],
  series: condSeries([off33v25, off27v25, off33v105, off33vM40, off36v25, off33v85, off33vM10]),
  itemFont: 17,
  items: condItems(549, 592, 601.7, 691.7, 735, 738.3)
});

drawPanel({
  id: 9, left: 1007.3, right: 1348.7, top: 1168.3, bottom: 1509,
  xDomain: [0.5, 6.0], yDomain: [-80, -10],
  xTicks: freqTicks, yTicks: [-80, -70, -60, -50, -40, -30, -20, -10], xGrid: freqGrid, yGrid: [-70, -60, -50, -40, -30, -20],
  titleX: 1008, titles: [["Side-Band Suppression vs LO", 1116.7, 304], ["Frequency for Gain TempComp On", 1145, 350]],
  xLabel: ["LO FREQUENCY (GHz)", 1178, 1557, 160],
  yLabel: ["SIDE-BAND SUPPRESSION (dBc)", 965, 1337, 239],
  code: ["5589 G09", 1572],
  boxes: [[1008.5, 1169.5, 285, 71], [1008.5, 1169.5, 179, 97]],
  series: condSeries([on33v25, on27v25, on33v105, on33vM40, on36v25, on33v85, on33vM10]),
  itemFont: 17,
  items: condItems(1020.7, 1065, 1073.3, 1165, 1206.7, 1210)
});

svg.append("text").attr("x", 1357).attr("y", 1579)
  .style("font-size", "18px").attr("fill", "#111").text("5589f");
</script>
</body>
</html>
